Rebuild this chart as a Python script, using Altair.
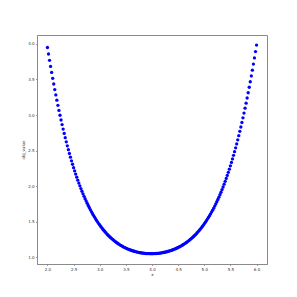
import altair as alt
import pandas as pd

x_start = 2.0
x_step = 0.02
obj_value = [
    3.949, 3.858, 3.769, 3.683, 3.599, 3.516, 3.436, 3.358, 3.282, 3.208,
    3.136, 3.065, 2.997, 2.930, 2.865, 2.802, 2.741, 2.681, 2.623, 2.567,
    2.512, 2.459, 2.407, 2.356, 2.308, 2.260, 2.214, 2.169, 2.126, 2.084,
    2.043, 2.004, 1.965, 1.928, 1.892, 1.857, 1.823, 1.791, 1.759, 1.728,
    1.699, 1.670, 1.642, 1.616, 1.590, 1.565, 1.541, 1.518, 1.495, 1.473,
    1.453, 1.432, 1.413, 1.394, 1.376, 1.359, 1.342, 1.326, 1.311, 1.296,
    1.282, 1.268, 1.255, 1.243, 1.231, 1.219, 1.208, 1.197, 1.187, 1.178,
    1.168, 1.160, 1.151, 1.143, 1.136, 1.129, 1.122, 1.115, 1.109, 1.104,
    1.098, 1.093, 1.088, 1.084, 1.080, 1.076, 1.072, 1.069, 1.066, 1.063,
    1.061, 1.059, 1.057, 1.055, 1.053, 1.052, 1.051, 1.051, 1.050, 1.050,
    1.050,
    1.050, 1.051, 1.052, 1.053, 1.054, 1.055, 1.057, 1.059, 1.062, 1.064,
    1.067, 1.070, 1.073, 1.077, 1.081, 1.085, 1.090, 1.094, 1.100, 1.105,
    1.111, 1.117, 1.123, 1.130, 1.137, 1.145, 1.153, 1.161, 1.170, 1.179,
    1.188, 1.198, 1.209, 1.220, 1.231, 1.243, 1.255, 1.268, 1.281, 1.295,
    1.310, 1.325, 1.341, 1.357, 1.374, 1.392, 1.410, 1.429, 1.449, 1.470,
    1.491, 1.513, 1.536, 1.559, 1.584, 1.609, 1.635, 1.662, 1.690, 1.719,
    1.749, 1.780, 1.812, 1.845, 1.879, 1.914, 1.951, 1.988, 2.027, 2.067,
    2.108, 2.150, 2.194, 2.239, 2.286, 2.333, 2.383, 2.433, 2.485, 2.539,
    2.594, 2.651, 2.710, 2.770, 2.831, 2.895, 2.960, 3.027, 3.096, 3.166,
    3.239, 3.313, 3.390, 3.468, 3.549, 3.631, 3.716, 3.803, 3.892, 3.983,
]
x_values = [round(x_start + x_step * i, 2) for i in range(len(obj_value))]

x_ticks = [2.0, 2.5, 3.0, 3.5, 4.0, 4.5, 5.0, 5.5, 6.0]
y_ticks = [1.0, 1.5, 2.0, 2.5, 3.0, 3.5, 4.0]

df = pd.DataFrame({"x": x_values, "obj_value": obj_value})

axis_common = dict(
    labelFont="DejaVu Sans", labelFontSize=4, labelColor="#333",
    titleFont="DejaVu Sans", titleFontSize=4, titleFontWeight="normal", titleColor="#333",
    tickSize=1.5, tickColor="#555", tickWidth=0.6,
    domainColor="#8a8a8a", domainWidth=1,
    grid=False, labelPadding=1.5, format=".1f",
)

chart = alt.Chart(df).mark_circle(color="#0000ff", size=11, opacity=1).encode(
    x=alt.X("x:Q",
            scale=alt.Scale(domain=[1.8, 6.2], nice=False, zero=False),
            axis=alt.Axis(values=x_ticks, title="x", titlePadding=1.5, **axis_common)),
    y=alt.Y("obj_value:Q",
            scale=alt.Scale(domain=[0.905, 4.125], nice=False, zero=False),
            axis=alt.Axis(values=y_ticks, title="obj_value", titlePadding=2, **axis_common)),
).properties(
    width=230, height=229,
    autosize=alt.AutoSizeParams(type="none"),
    padding={"left": 29, "top": 27, "right": 12, "bottom": 20},
).configure_view(stroke="#8a8a8a", strokeWidth=1)

chart.save("out.html", embed_options={"renderer": "svg", "actions": False})
